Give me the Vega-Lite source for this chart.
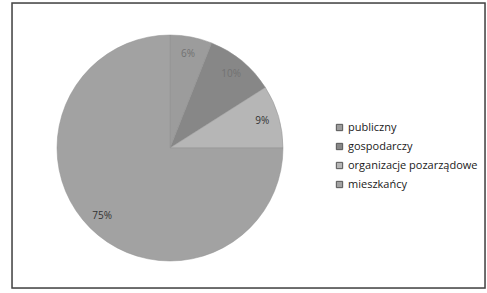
{
  "$schema": "https://vega.github.io/schema/vega-lite/v6.json",
  "width": 473,
  "height": 285,
  "autosize": {"type": "none"},
  "padding": {"left": 12, "top": 3, "right": 2, "bottom": 5},
  "background": "white",
  "data": {"values": [
    {"kategoria": "publiczny", "udzial": 6, "kolejnosc": 1, "etykieta": "6%", "kolor_tekstu": "faint"},
    {"kategoria": "gospodarczy", "udzial": 10, "kolejnosc": 2, "etykieta": "10%", "kolor_tekstu": "faint"},
    {"kategoria": "organizacje pozarządowe", "udzial": 9, "kolejnosc": 3, "etykieta": "9%", "kolor_tekstu": "dark"},
    {"kategoria": "mieszkańcy", "udzial": 75, "kolejnosc": 4, "etykieta": "75%", "kolor_tekstu": "dark"}
  ]},
  "layer": [
    {
      "data": {"values": [{"a": 0, "b": 1}]},
      "mark": {"type": "rect", "fill": null, "fillOpacity": 0, "stroke": "#444", "strokeWidth": 1.5},
      "encoding": {
        "x": {"field": "a", "type": "quantitative", "scale": {"domain": [0, 1], "nice": false, "zero": false}, "axis": null},
        "x2": {"field": "b"},
        "y": {"field": "a", "type": "quantitative", "scale": {"domain": [0, 1], "nice": false, "zero": false}, "axis": null},
        "y2": {"field": "b"}
      }
    },
    {
      "mark": {"type": "arc", "outerRadius": 113, "x": 158, "y": 145, "stroke": "#929292", "strokeWidth": 0.5},
      "encoding": {
        "theta": {"field": "udzial", "type": "quantitative", "stack": true},
        "order": {"field": "kolejnosc", "type": "quantitative"},
        "color": {
          "field": "kategoria", "type": "nominal",
          "scale": {"domain": ["publiczny", "gospodarczy", "organizacje pozarządowe", "mieszkańcy"],
                    "range": ["#9c9c9c", "#878787", "#b6b6b6", "#a2a2a2"]},
          "legend": {
            "title": null, "orient": "none", "legendX": 322, "legendY": 119,
            "symbolType": "square", "symbolSize": 40, "symbolStrokeColor": "#555", "symbolStrokeWidth": 1,
            "labelFont": "Open Sans", "labelFontSize": 11, "labelColor": "#1a1a1a",
            "rowPadding": 7, "symbolOffset": 0, "labelOffset": 3
          }
        }
      }
    },
    {
      "mark": {"type": "text", "radius": 96, "x": 158, "y": 145, "font": "Open Sans", "fontSize": 10},
      "encoding": {
        "theta": {"field": "udzial", "type": "quantitative", "stack": true},
        "order": {"field": "kolejnosc", "type": "quantitative"},
        "text": {"field": "etykieta"},
        "color": {"condition": {"test": "datum.kolor_tekstu === 'dark'", "value": "#333333"}, "value": "#727272"}
      }
    }
  ]
}
